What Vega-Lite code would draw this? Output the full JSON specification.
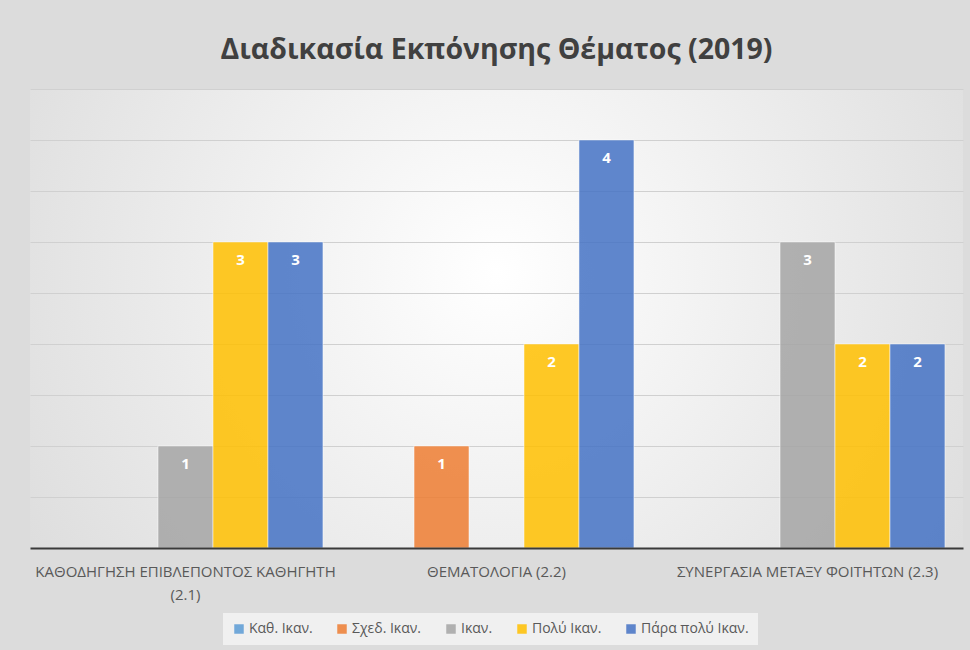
{
  "$schema": "https://vega.github.io/schema/vega-lite/v6.json",
  "width": 933,
  "height": 459,
  "autosize": {"type": "none"},
  "padding": {"left": 30, "top": 89, "right": 7, "bottom": 102},
  "background": "#dcdcdc",
  "title": {
    "text": "Διαδικασία Εκπόνησης Θέματος (2019)",
    "font": "Open Sans",
    "fontSize": 28.5,
    "fontWeight": "bold",
    "color": "#404040",
    "anchor": "middle",
    "offset": 25
  },
  "data": {
    "values": [
      {"category": "ΚΑΘΟΔΗΓΗΣΗ ΕΠΙΒΛΕΠΟΝΤΟΣ ΚΑΘΗΓΗΤΗ (2.1)", "series": "Ικαν.", "value": 1},
      {"category": "ΚΑΘΟΔΗΓΗΣΗ ΕΠΙΒΛΕΠΟΝΤΟΣ ΚΑΘΗΓΗΤΗ (2.1)", "series": "Πολύ Ικαν.", "value": 3},
      {"category": "ΚΑΘΟΔΗΓΗΣΗ ΕΠΙΒΛΕΠΟΝΤΟΣ ΚΑΘΗΓΗΤΗ (2.1)", "series": "Πάρα πολύ Ικαν.", "value": 3},
      {"category": "ΘΕΜΑΤΟΛΟΓΙΑ (2.2)", "series": "Σχεδ. Ικαν.", "value": 1},
      {"category": "ΘΕΜΑΤΟΛΟΓΙΑ (2.2)", "series": "Πολύ Ικαν.", "value": 2},
      {"category": "ΘΕΜΑΤΟΛΟΓΙΑ (2.2)", "series": "Πάρα πολύ Ικαν.", "value": 4},
      {"category": "ΣΥΝΕΡΓΑΣΙΑ ΜΕΤΑΞΥ ΦΟΙΤΗΤΩΝ (2.3)", "series": "Ικαν.", "value": 3},
      {"category": "ΣΥΝΕΡΓΑΣΙΑ ΜΕΤΑΞΥ ΦΟΙΤΗΤΩΝ (2.3)", "series": "Πολύ Ικαν.", "value": 2},
      {"category": "ΣΥΝΕΡΓΑΣΙΑ ΜΕΤΑΞΥ ΦΟΙΤΗΤΩΝ (2.3)", "series": "Πάρα πολύ Ικαν.", "value": 2}
    ]
  },
  "encoding": {
    "x": {
      "field": "category",
      "type": "nominal",
      "sort": ["ΚΑΘΟΔΗΓΗΣΗ ΕΠΙΒΛΕΠΟΝΤΟΣ ΚΑΘΗΓΗΤΗ (2.1)", "ΘΕΜΑΤΟΛΟΓΙΑ (2.2)", "ΣΥΝΕΡΓΑΣΙΑ ΜΕΤΑΞΥ ΦΟΙΤΗΤΩΝ (2.3)"],
      "scale": {"paddingInner": 0.116, "paddingOuter": 0.058},
      "axis": {
        "title": null,
        "labelAngle": 0,
        "labelFont": "Open Sans",
        "labelFontSize": 15,
        "labelColor": "#595959",
        "labelPadding": 16,
        "labelLineHeight": 23,
        "labelLimit": 0,
        "labelExpr": "datum.value == 'ΚΑΘΟΔΗΓΗΣΗ ΕΠΙΒΛΕΠΟΝΤΟΣ ΚΑΘΗΓΗΤΗ (2.1)' ? ['ΚΑΘΟΔΗΓΗΣΗ ΕΠΙΒΛΕΠΟΝΤΟΣ ΚΑΘΗΓΗΤΗ', '(2.1)'] : datum.value",
        "ticks": false,
        "grid": false,
        "domainColor": "#3a3a3a",
        "domainWidth": 2,
        "zindex": 2
      }
    },
    "xOffset": {
      "field": "series",
      "type": "nominal",
      "scale": {
        "domain": ["Καθ. Ικαν.", "Σχεδ. Ικαν.", "Ικαν.", "Πολύ Ικαν.", "Πάρα πολύ Ικαν."],
        "paddingInner": 0,
        "paddingOuter": 0
      }
    },
    "y": {
      "field": "value",
      "type": "quantitative",
      "scale": {"domain": [0, 4.5]},
      "axis": {
        "title": null,
        "labels": false,
        "ticks": false,
        "domain": false,
        "values": [0.5, 1, 1.5, 2, 2.5, 3, 3.5, 4, 4.5],
        "gridColor": "#d0d0d0",
        "gridWidth": 1
      }
    }
  },
  "layer": [
    {
      "mark": {"type": "bar", "fillOpacity": 0.85, "stroke": "#ffffff", "strokeWidth": 1, "strokeOpacity": 0.5},
      "encoding": {
        "color": {
          "field": "series",
          "type": "nominal",
          "scale": {
            "domain": ["Καθ. Ικαν.", "Σχεδ. Ικαν.", "Ικαν.", "Πολύ Ικαν.", "Πάρα πολύ Ικαν."],
            "range": ["#5b9bd5", "#ed7d31", "#a5a5a5", "#ffc000", "#4472c4"]
          },
          "legend": {
            "title": null,
            "orient": "none",
            "direction": "horizontal",
            "columns": 5,
            "legendX": 193,
            "legendY": 524,
            "fillColor": "#f0f0f0",
            "padding": 9,
            "symbolType": "square",
            "symbolSize": 90,
            "symbolStrokeWidth": 0,
            "symbolOpacity": 0.85,
            "labelFont": "Open Sans",
            "labelFontSize": 14,
            "labelColor": "#595959",
            "labelOffset": 3,
            "columnPadding": 22
          }
        }
      }
    },
    {
      "mark": {"type": "text", "color": "#ffffff", "font": "Open Sans", "fontSize": 15, "fontWeight": "bold", "baseline": "middle", "dy": 18},
      "encoding": {
        "text": {"field": "value", "type": "quantitative"}
      }
    }
  ],
  "config": {
    "view": {
      "stroke": null,
      "fill": {
        "gradient": "radial",
        "x1": 0.5, "y1": 0.45, "r1": 0,
        "x2": 0.5, "y2": 0.45, "r2": 0.75,
        "stops": [
          {"offset": 0, "color": "#ffffff"},
          {"offset": 1, "color": "#d4d4d4"}
        ]
      }
    }
  }
}
